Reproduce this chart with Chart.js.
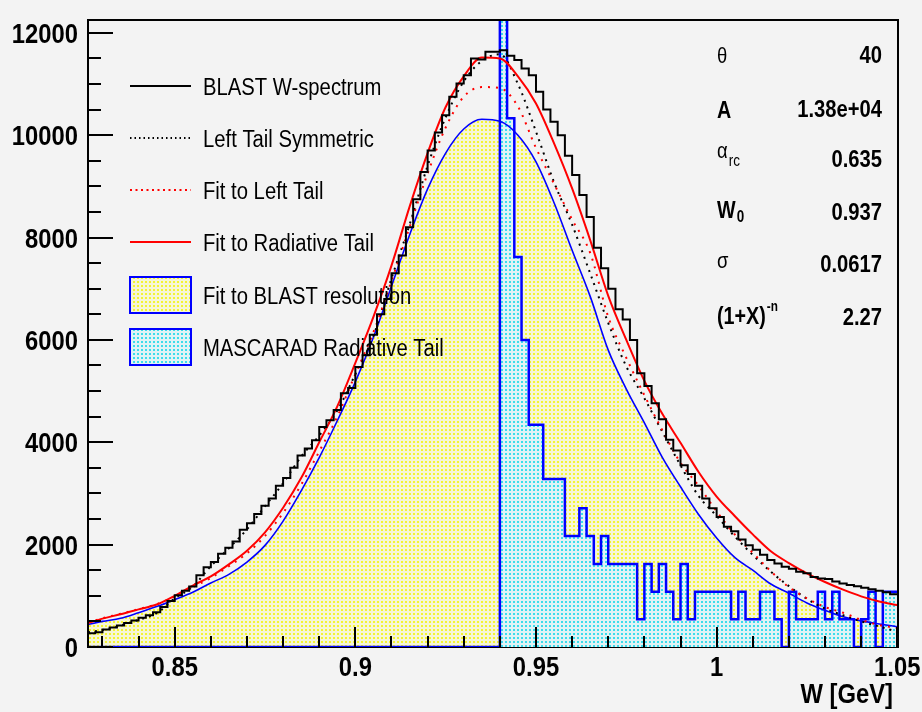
<!DOCTYPE html>
<html><head><meta charset="utf-8">
<script src="https://cdn.jsdelivr.net/npm/chart.js@4.4.1/dist/chart.umd.min.js"></script>
<style>
html,body{margin:0;padding:0;background:#f3f3f3;}
#wrap{width:922px;height:712px;position:relative;}
canvas{display:block;}
</style></head>
<body><div id="wrap"><canvas id="c" width="922" height="712"></canvas></div>
<script>
// ---------------- data ----------------
const binLow = 0.826, binWidth = 0.002;          // histogram binning (GeV)
const blastCounts = [
 270,290,340,380,420,470,520,570,620,680,
 780,900,1010,1100,1180,1400,1560,1660,1820,1940,
 2060,2290,2420,2600,2760,2900,3150,3300,3500,3740,
 3880,4040,4300,4430,4630,4960,5060,5470,5700,6100,
 6500,6800,7300,7650,8200,8750,9280,9700,10050,10390,
 10750,11010,11170,11500,11480,11630,11630,11660,11550,11470,
 11300,11170,10850,10500,10260,10000,9600,9220,8830,8400,
 7800,7400,7000,6600,6400,6000,5350,5100,4760,4450,
 4050,3840,3550,3380,3150,2900,2710,2540,2350,2260,
 2100,1990,1900,1800,1700,1630,1570,1530,1470,1440,
 1370,1340,1330,1280,1240,1210,1185,1160,1130,1100,
 1070,1030];
const mascaradCounts = [
 0,0,0,0,0,0,0,0,0,0, 0,0,0,0,0,0,0,0,0,0,
 0,0,0,0,0,0,0,0,0,0, 0,0,0,0,0,0,0,0,0,0,
 0,0,0,0,0,0,0,0,0,0, 0,0,0,0,0,0,0,
 16500,10330,7620,6000,4340,4340,3280,3280,3280,2170,
 2170,2710,2170,1620,2170,1620,1620,1620,1620,540,
 1620,1080,1620,1080,540,1620,540,1080,1080,1080,
 1080,1080,540,1080,540,540,1080,1080,540,0,
 1080,540,540,540,1080,540,1080,540,540,0,
 540,1080,0,1080,1080];
const fitW = [0.826,0.830,0.835,0.840,0.845,0.850,0.855,0.860,0.865,0.870,
 0.875,0.880,0.885,0.890,0.895,0.900,0.905,0.910,0.915,0.920,
 0.925,0.930,0.935,0.940,0.945,0.950,0.955,0.960,0.965,0.970,
 0.975,0.980,0.985,0.990,0.995,1.000,1.005,1.010,1.015,1.020,
 1.025,1.030,1.035,1.040,1.045,1.050];
const radiativeFit = [470,555,640,735,830,1000,1200,1380,1615,1880,
 2240,2720,3300,4000,4700,5550,6450,7450,8600,9650,
 10550,11150,11515,11500,11150,10620,9840,8960,7950,6860,
 6000,5200,4550,3990,3420,2940,2560,2200,1870,1640,
 1440,1270,1120,990,890,820];
const leftTailFit = [480,560,650,740,835,990,1170,1350,1580,1830,
 2170,2620,3170,3820,4500,5330,6150,7150,8200,9250,
 10150,10750,10940,10920,10560,9750,9050,8350,7700,6450,
 5650,4920,4230,3600,3150,2650,2200,1840,1480,1170,
 950,780,670,530,430,370];
const leftTailSym = [290,330,420,530,660,950,1180,1580,1930,2300,
 2750,3200,3720,4130,4620,5330,6080,7200,8250,9400,
 10350,11050,11450,11580,11000,10070,9080,8250,7300,6330,
 5480,4860,4200,3550,2950,2560,2160,1800,1470,1190,
 940,750,620,500,400,300];
const resolutionFit = [440,500,560,670,790,925,1070,1250,1420,1660,
 1985,2460,3050,3700,4420,5180,6050,7050,8050,8950,
 9650,10120,10310,10270,10000,9480,8680,7750,6850,5800,
 5040,4380,3700,3130,2590,2130,1750,1500,1230,1050,
 860,715,590,510,450,396];
const xMajorTicks = [0.85,0.9,0.95,1.0,1.05];
const xTickLabels = ['0.85','0.9','0.95','1','1.05'];
const yMajorTicks = [0,2000,4000,6000,8000,10000,12000];
const yTickLabels = ['0','2000','4000','6000','8000','10000','12000'];
const xAxisTitle = 'W [GeV]';
const legendLabels = ['BLAST W-spectrum','Left Tail Symmetric','Fit to Left Tail',
 'Fit to Radiative Tail','Fit to BLAST resolution','MASCARAD Radiative Tail'];
const statNames = ['θ','A','α','W','σ','(1+X)'];
const statSub = ['', '', 'rc', '0', '', ''];
const statSup = ['', '', '', '', '', '-n'];
const statValues = ['40','1.38e+04','0.635','0.937','0.0617','2.27'];

// ---------------- helpers ----------------
const SANS = "'Liberation Sans',Arial,Helvetica,sans-serif";
const canvas = document.getElementById('c');
const mainCtx = canvas.getContext('2d');
function dotPattern(bg, dot) {
  const t = document.createElement('canvas'); t.width = 4; t.height = 4;
  const g = t.getContext('2d');
  g.fillStyle = bg; g.fillRect(0, 0, 4, 4);
  g.fillStyle = dot; g.fillRect(1, 1, 2, 2);
  return mainCtx.createPattern(t, 'repeat');
}
const yellowPat = dotPattern('rgb(246,246,214)', 'rgb(244,244,50)');
const cyanPat = dotPattern('rgb(224,243,245)', 'rgb(60,220,236)');

const binEdges = Array.from({length: blastCounts.length + 1}, (_, i) => +(binLow + i * binWidth).toFixed(4));
function histPoints(counts) {
  const pts = [];
  counts.forEach((c, i) => { pts.push({x: binEdges[i], y: c}); pts.push({x: binEdges[i + 1], y: c}); });
  return pts;
}
const curvePoints = vals => fitW.map((w, i) => ({x: w, y: vals[i]}));

const styles = {
  blast: {color: '#000', width: 2, dash: []},
  sym: {color: '#000', width: 2, dash: [2, 5]},
  left: {color: '#ff0000', width: 2, dash: [2, 6]},
  rad: {color: '#ff0000', width: 2, dash: []},
  res: {color: '#0000ff', width: 1.6, dash: []},
  masc: {color: '#0000ff', width: 2.5, dash: []}
};
function lineDS(label, data, st, order, extra) {
  return Object.assign({label, data, borderColor: st.color, borderWidth: st.width,
    borderDash: st.dash, fill: false, pointRadius: 0, order, borderCapStyle: 'butt'}, extra || {});
}

const datasets = [
  lineDS('BLAST W-spectrum', histPoints(blastCounts), styles.blast, 1),
  lineDS('Fit to Radiative Tail', curvePoints(radiativeFit), styles.rad, 2, {cubicInterpolationMode: 'monotone'}),
  lineDS('Fit to Left Tail', curvePoints(leftTailFit), styles.left, 3, {cubicInterpolationMode: 'monotone'}),
  lineDS('Left Tail Symmetric', curvePoints(leftTailSym), styles.sym, 4, {cubicInterpolationMode: 'monotone'}),
  lineDS('MASCARAD Radiative Tail', histPoints(mascaradCounts), styles.masc, 5),
  lineDS('Fit to BLAST resolution', curvePoints(resolutionFit), styles.res, 6, {cubicInterpolationMode: 'monotone'}),
  {label: 'MASCARAD fill', data: histPoints(mascaradCounts), borderWidth: 0, borderColor: 'rgba(0,0,0,0)',
   backgroundColor: cyanPat, fill: 'origin', pointRadius: 0, order: 9},
  {label: 'resolution fill', data: curvePoints(resolutionFit), borderWidth: 0, borderColor: 'rgba(0,0,0,0)',
   backgroundColor: yellowPat, fill: 'origin', pointRadius: 0, order: 10, cubicInterpolationMode: 'monotone'}
];

// ---------------- ROOT-like decorations ----------------
const yMinorStep = 500, xMinorStep = 0.01;
// draw horizontally condensed text (the reference uses a narrow face)
function txt(ctx, s, x, base, font, align, sx) {
  sx = sx || 0.84;
  ctx.save();
  ctx.font = font; ctx.textAlign = align || 'left'; ctx.textBaseline = 'alphabetic';
  const w = ctx.measureText(s).width * sx;
  ctx.translate(x, base); ctx.scale(sx, 1);
  ctx.fillText(s, 0, 0);
  ctx.restore();
  return w;
}
const rootStyle = {
  id: 'rootStyle',
  beforeDatasetsDraw(chart) {
    const {ctx, chartArea: a} = chart;
    ctx.save(); ctx.strokeStyle = '#000'; ctx.lineWidth = 2;
    ctx.beginPath(); ctx.moveTo(a.left - 1, a.bottom); ctx.lineTo(a.right + 1, a.bottom); ctx.stroke();
    ctx.restore();
  },
  afterDatasetsDraw(chart) {
    const {ctx, chartArea: a, scales: {x, y}} = chart;
    ctx.save();
    ctx.strokeStyle = '#000'; ctx.lineWidth = 2;
    ctx.beginPath();
    ctx.moveTo(a.left, a.bottom); ctx.lineTo(a.left, a.top); ctx.lineTo(a.right, a.top); ctx.lineTo(a.right, a.bottom);
    ctx.stroke();
    ctx.beginPath();
    for (let v = 0; v <= y.max; v += yMinorStep) {
      const py = Math.round(y.getPixelForValue(v));
      const len = yMajorTicks.includes(v) ? 25 : 13;
      ctx.moveTo(a.left, py); ctx.lineTo(a.left + len, py);
    }
    for (let k = Math.ceil(x.min / xMinorStep); k * xMinorStep <= x.max + 1e-9; k++) {
      const v = k * xMinorStep;
      const px = Math.round(x.getPixelForValue(v));
      const major = xMajorTicks.some(m => Math.abs(m - v) < 1e-6);
      const len = major ? 20 : 11;
      ctx.moveTo(px, a.bottom); ctx.lineTo(px, a.bottom - len);
    }
    ctx.stroke();
    ctx.restore();
  },
  afterDraw(chart) {
    const {ctx, chartArea: a, scales: {x, y}} = chart;
    ctx.save();
    ctx.fillStyle = '#000';
    const bold = s => 'bold ' + s + 'px ' + SANS;
    const reg = s => s + 'px ' + SANS;
    // axis tick labels (positions from the Chart.js scales)
    yMajorTicks.forEach((v, i) => {
      const py = y.getPixelForValue(v);
      txt(ctx, yTickLabels[i], a.left - 10, py + 10, bold(28), 'right', 0.85);
    });
    xMajorTicks.forEach((v, i) => {
      const px = x.getPixelForValue(v);
      txt(ctx, xTickLabels[i], px, a.bottom + 29, bold(28), 'center', 0.85);
    });
    txt(ctx, xAxisTitle, a.right - 5, 703, bold(28), 'right', 0.85);
    // legend
    const rows = [86, 138, 190, 242, 295, 347];
    const keys = ['blast', 'sym', 'left', 'rad'];
    const sx0 = 130, sx1 = 191, tx = 203;
    rows.forEach((ry, i) => {
      if (i < 4) {
        const st = styles[keys[i]];
        ctx.save();
        ctx.strokeStyle = st.color; ctx.lineWidth = st.width;
        ctx.setLineDash(i === 1 ? [1.5, 3] : (i === 2 ? [2, 3.5] : []));
        ctx.beginPath(); ctx.moveTo(sx0, ry); ctx.lineTo(sx1, ry); ctx.stroke();
        ctx.restore();
      } else {
        ctx.save();
        ctx.fillStyle = i === 4 ? yellowPat : cyanPat;
        ctx.fillRect(sx0, ry - 18, sx1 - sx0, 36);
        ctx.strokeStyle = '#0000ff'; ctx.lineWidth = 2;
        ctx.strokeRect(sx0, ry - 18, sx1 - sx0, 36);
        ctx.restore();
      }
      txt(ctx, legendLabels[i], tx, ry + 8.8, reg(24.7), 'left', 0.82);
    });
    // stats block
    const lx = 717, vx = 882;
    txt(ctx, statNames[0], lx, 63, reg(22));
    txt(ctx, statNames[1], lx, 118, bold(23.5));
    let w = txt(ctx, statNames[2], lx, 158, reg(22));
    txt(ctx, statSub[2], lx + w + 1, 166, reg(16));
    w = txt(ctx, statNames[3], lx, 218, bold(23.5));
    txt(ctx, statSub[3], lx + w + 1, 222, bold(16));
    txt(ctx, statNames[4], lx, 268, reg(22));
    w = txt(ctx, statNames[5], lx, 324, bold(23.5));
    txt(ctx, statSup[5], lx + w + 1, 311, bold(14));
    const vBase = [63, 117, 167, 220, 272, 325];
    statValues.forEach((s, i) => txt(ctx, s, vx, vBase[i], bold(23.5), 'right', 0.86));
    ctx.restore();
  }
};

new Chart(canvas, {
  type: 'line',
  data: {datasets},
  options: {
    responsive: false,
    devicePixelRatio: 1,
    animation: false,
    events: [],
    layout: {padding: {left: 0, top: 20, right: 24, bottom: 0}},
    plugins: {legend: {display: false}, tooltip: {enabled: false}, title: {display: false}},
    elements: {point: {radius: 0}, line: {tension: 0}},
    scales: {
      x: {
        type: 'linear', min: 0.826, max: 1.0502,
        grid: {display: false, drawTicks: false},
        border: {display: false},
        afterBuildTicks: s => { s.ticks = xMajorTicks.map(v => ({value: v})); },
        ticks: {display: false},
        title: {display: false},
        afterFit: s => { s.height = 65; }
      },
      y: {
        type: 'linear', min: 0, max: 12250,
        grid: {display: false, drawTicks: false},
        border: {display: false},
        afterBuildTicks: s => { s.ticks = yMajorTicks.map(v => ({value: v})); },
        ticks: {display: false},
        afterFit: s => { s.width = 88; }
      }
    }
  },
  plugins: [rootStyle]
});
</script></body></html>
